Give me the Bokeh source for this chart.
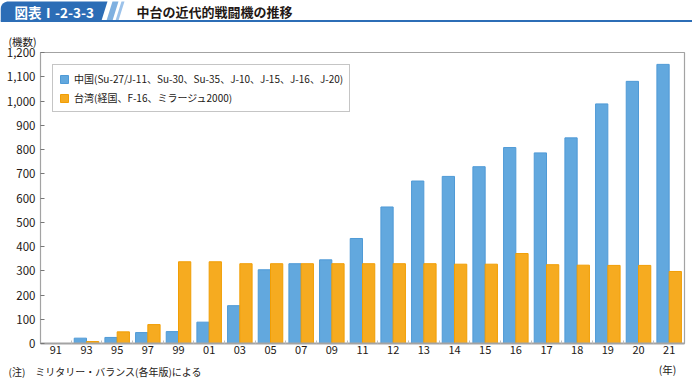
from bokeh.plotting import figure
from bokeh.models import (ColumnDataSource, Range1d, FixedTicker, NumeralTickFormatter,
                          Legend, LegendItem, Label)
from bokeh.layouts import column
from bokeh.transform import dodge
from bokeh.embed import file_html
from bokeh.resources import INLINE
import math

# ---------------- data ----------------
years = ["91", "93", "95", "97", "99", "01", "03", "05", "07", "09", "11",
         "12", "13", "14", "15", "16", "17", "18", "19", "20", "21"]
china = [0, 22, 25, 45, 49, 88, 156, 304, 329, 345, 433,
         563, 670, 689, 729, 808, 786, 848, 988, 1081, 1151]
taiwan = [0, 8, 48, 78, 337, 337, 329, 329, 329, 329, 329,
          329, 329, 327, 327, 371, 325, 323, 322, 322, 297]
series_names = ["中国(Su-27/J-11、Su-30、Su-35、J-10、J-15、J-16、J-20)",
                "台湾(経国、F-16、ミラージュ2000)"]
y_ticks = [0, 100, 200, 300, 400, 500, 600, 700, 800, 900, 1000, 1100, 1200]
fig_label = "図表Ⅰ-2-3-3"
title_text = "中台の近代的戦闘機の推移"
y_unit = "(機数)"
x_unit = "(年)"
note_text = "(注)　ミリタリー・バランス(各年版)による"

FONT = "Noto Sans CJK JP"
TXT = "#231815"
BLUE_HDR = "#2c6db6"
AX = "#a3a3a3"


def strip(height):
    s = figure(width=692, height=height, x_range=Range1d(0, 692), y_range=Range1d(height, 0),
               output_backend="svg", toolbar_location=None, min_border=0,
               x_axis_location=None, y_axis_location=None)
    if "frame_align" in s.properties():
        s.frame_align = False
    s.grid.visible = False
    s.outline_line_color = None
    return s


# ---------------- header ----------------
h = strip(22)
r = 8
arc_x = [r - r * math.cos(math.radians(a)) for a in range(0, 91, 10)]
arc_y = [1 + r - r * math.sin(math.radians(a)) for a in range(0, 91, 10)]
tab_x = [0] + arc_x + [107, 101, 0]
tab_y = [20] + arc_y + [1, 20, 20]
h.patch(tab_x, tab_y, fill_color=BLUE_HDR, line_color=None)
h.patch([112, 118, 112, 106], [1, 1, 20, 20], fill_color="#7fb0e0", line_color=None)
h.patch([121, 124, 118, 115], [1, 1, 20, 20], fill_color="#9cc2ea", line_color=None)
h.line([0, 692], [20.5, 20.5], line_color=BLUE_HDR, line_width=2)
h.add_layout(Label(x=14, y=11, text=fig_label, text_font=FONT, text_font_size="13.5px",
                   text_font_style="bold", text_color="white", text_baseline="middle"))
h.add_layout(Label(x=136, y=11, text=title_text, text_font=FONT, text_font_size="13px",
                   text_font_style="bold", text_color=TXT, text_baseline="middle"))

# ---------------- main chart ----------------
idx = list(range(len(years)))
src = ColumnDataSource(dict(x=idx, china=china, taiwan=taiwan))

p = figure(width=692, height=339, x_range=Range1d(-0.5, len(years) - 0.5),
           y_range=Range1d(0, 1200), output_backend="svg", toolbar_location=None,
           min_border_left=40, min_border_right=8, min_border_top=30, min_border_bottom=18)
if "frame_align" in p.properties():
    p.frame_align = False
p.grid.visible = False
p.outline_line_color = AX
p.outline_line_width = 1.2

p.title.text = y_unit
p.title.align = "left"
p.title.offset = -32
p.title.standoff = 7
p.title.text_font = FONT
p.title.text_font_size = "10.5px"
p.title.text_font_style = "normal"
p.title.text_color = TXT

r1 = p.vbar(x=dodge("x", -0.2, range=p.x_range), top="china", width=0.4, source=src,
            fill_color="#62a8de", line_color="#4f9ad6", line_width=1)
r2 = p.vbar(x=dodge("x", 0.2, range=p.x_range), top="taiwan", width=0.4, source=src,
            fill_color="#f6ab20", line_color="#f19e05", line_width=1)

p.xaxis.ticker = FixedTicker(ticks=idx, minor_ticks=[i + 0.5 for i in idx[:-1]])
p.xaxis.major_label_overrides = {i: y for i, y in enumerate(years)}
p.xaxis.major_tick_in = 0
p.xaxis.major_tick_out = 0
p.xaxis.minor_tick_in = 3
p.xaxis.minor_tick_out = 0
p.xaxis.minor_tick_line_color = "#bdbdbd"
p.xaxis.axis_line_color = AX
p.xaxis.axis_line_width = 2
p.xaxis.major_label_standoff = 2
p.xaxis.major_label_text_font = FONT
p.xaxis.major_label_text_font_size = "11px"
p.xaxis.major_label_text_color = TXT

p.yaxis.ticker = FixedTicker(ticks=y_ticks)
p.yaxis.formatter = NumeralTickFormatter(format="0,0")
p.yaxis.major_tick_in = 4
p.yaxis.major_tick_out = 0
p.yaxis.major_tick_line_color = "#777777"
p.yaxis.minor_tick_line_color = None
p.yaxis.axis_line_color = AX
p.yaxis.major_label_standoff = 5
p.yaxis.major_label_text_font = FONT
p.yaxis.major_label_text_font_size = "11.5px"
p.yaxis.major_label_text_color = TXT

legend = Legend(items=[LegendItem(label=series_names[0], renderers=[r1]),
                       LegendItem(label=series_names[1], renderers=[r2])],
                location="top_left", margin=12, padding=6, spacing=4,
                glyph_width=10, glyph_height=10, label_height=14, label_standoff=5,
                label_text_font=FONT, label_text_font_size="10px",
                label_text_color=TXT, border_line_color="#8c8c8c", border_line_width=1,
                background_fill_alpha=1)
p.add_layout(legend)

# ---------------- footer ----------------
f = strip(17)
f.add_layout(Label(x=8, y=9.5, text=note_text, text_font=FONT, text_font_size="10px",
                   text_color=TXT, text_baseline="middle"))
f.add_layout(Label(x=667, y=8, text=x_unit, text_font=FONT, text_font_size="10.5px",
                   text_color=TXT, text_baseline="middle", text_align="center"))

layout = column(h, p, f, spacing=0)
open("out.html", "w").write(file_html(layout, INLINE))
